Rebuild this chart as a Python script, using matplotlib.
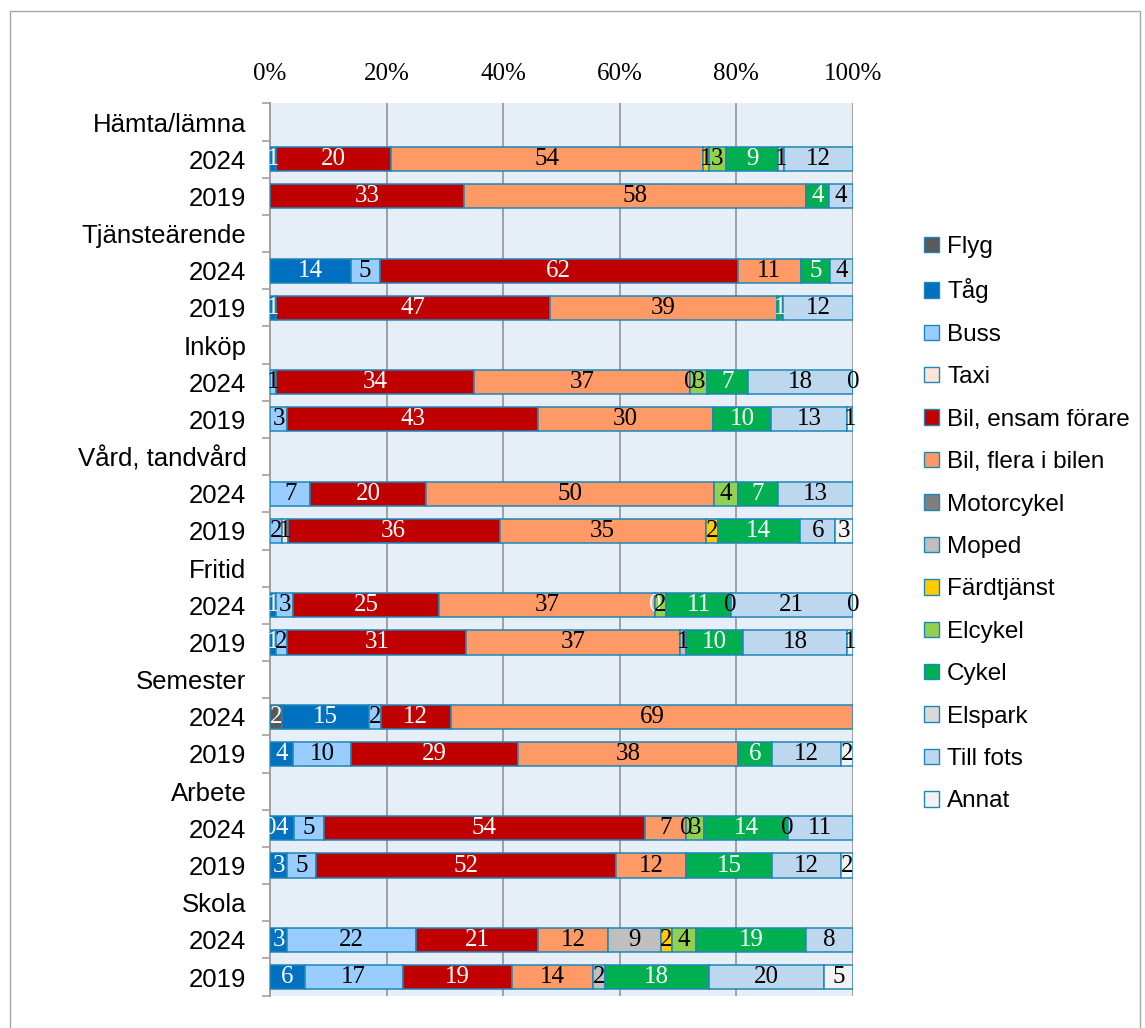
import matplotlib
matplotlib.use("Agg")
import matplotlib.pyplot as plt
from matplotlib.patches import Rectangle, Patch
import numpy as np

# Travel purposes, each with a 2024 and a 2019 row
groups = ["Hämta/lämna", "Tjänsteärende", "Inköp", "Vård, tandvård",
          "Fritid", "Semester", "Arbete", "Skola"]
years = ["2024", "2019"]

# Share per mode (percent), one value per purpose/year row; None = not reported
modes = ["Flyg", "Tåg", "Buss", "Taxi", "Bil, ensam förare", "Bil, flera i bilen",
         "Motorcykel", "Moped", "Färdtjänst", "Elcykel", "Cykel", "Elspark",
         "Till fots", "Annat"]
N = None
flyg       = [N, N, N, N, N, N, N, N, N, N, 2, N, 0, N, N, N]
tag        = [1, N, 14, 1, N, N, N, N, 1, 1, 15, 4, 4, 3, 3, 6]
buss       = [N, N, 5, N, 1, 3, 7, 2, 3, 2, 2, 10, 5, 5, 22, 17]
taxi       = [N, N, N, N, N, N, N, 1, N, N, N, N, N, N, N, N]
bil_ensam  = [20, 33, 62, 47, 34, 43, 20, 36, 25, 31, 12, 29, 54, 52, 21, 19]
bil_flera  = [54, 58, 11, 39, 37, 30, 50, 35, 37, 37, 69, 38, 7, 12, 12, 14]
motorcykel = [N, N, N, N, N, N, N, N, 0, N, N, N, N, N, N, N]
moped      = [N, N, N, N, N, N, N, N, N, 1, N, N, N, N, 9, 2]
fardtjanst = [1, N, N, N, 0, N, N, 2, N, N, N, N, 0, N, 2, N]
elcykel    = [3, N, N, N, 3, N, 4, N, 2, N, N, N, 3, N, 4, N]
cykel      = [9, 4, 5, 1, 7, 10, 7, 14, 11, 10, N, 6, 14, 15, 19, 18]
elspark    = [1, N, N, N, N, N, N, N, 0, N, N, N, 0, N, N, N]
till_fots  = [12, 4, 4, 12, 18, 13, 13, 6, 21, 18, N, 12, 11, 12, 8, 20]
annat      = [N, N, N, N, 0, 1, N, 3, 0, 1, N, 2, N, 2, N, 5]

series = [flyg, tag, buss, taxi, bil_ensam, bil_flera, motorcykel, moped,
          fardtjanst, elcykel, cykel, elspark, till_fots, annat]
colors = ["#595959", "#0070C0", "#99CCFF", "#FBE5D6", "#C00000", "#FF9966",
          "#7F7F7F", "#BFBFBF", "#FFCC00", "#92D050", "#00B050", "#D9D9D9",
          "#BDD7EE", "#F2F2F2"]
text_colors = ["white", "white", "black", "black", "white", "black",
               "white", "black", "black", "black", "white", "black",
               "black", "black"]
edge = "#1F86B8"

SERIF = "Liberation Serif"
SANS = "Liberation Sans"

fig = plt.figure(figsize=(11.45, 10.28), dpi=100)
ax = fig.add_axes([270 / 1145, 0.0315, 583 / 1145, 0.8679])
ax.set_facecolor("#E6EEF8")

# row positions: header, 2024, 2019 for each purpose
ylabels, data_rows = [], []
for g, name in enumerate(groups):
    ylabels += [name] + years
    data_rows += [3 * g + 1, 3 * g + 2]
ypos = np.array(data_rows)
n_rows = len(ylabels)

vals = np.array([[np.nan if v is None else v for v in s] for s in series], dtype=float)
totals = np.nansum(vals, axis=0)
left = np.zeros(vals.shape[1])

for i, name in enumerate(modes):
    raw = vals[i]
    mask = ~np.isnan(raw)
    share = np.where(mask, raw, 0) / totals * 100
    if mask.any():
        bars = ax.barh(ypos[mask], share[mask], left=left[mask], height=0.65,
                       color=colors[i], edgecolor=edge, linewidth=1.1, zorder=3)
        labels = [f"{v:.0f}" for v in raw[mask]]
        ax.bar_label(bars, labels=labels, label_type="center",
                     color=text_colors[i], fontsize=18, family=SERIF, zorder=4)
    left = left + share

ax.set_xlim(0, 100)
ax.set_ylim(n_rows - 0.5, -0.5)
ax.set_xticks(np.arange(0, 101, 20))
ax.set_xticklabels([f"{t}%" for t in range(0, 101, 20)], family=SERIF, fontsize=18)
ax.xaxis.tick_top()
ax.tick_params(axis="x", length=0, pad=13)
ax.grid(axis="x", color="#A0A0A0", linewidth=1.4, zorder=0)

ax.set_yticks(np.arange(n_rows))
ax.set_yticklabels(ylabels, family=SANS, fontsize=18.5)
ax.set_yticks(np.arange(n_rows + 1) - 0.5, minor=True)
ax.tick_params(axis="y", which="major", length=0, pad=17)
ax.tick_params(axis="y", which="minor", length=6, color="#A0A0A0", width=1.2)

for side in ("top", "right", "bottom"):
    ax.spines[side].set_visible(False)
ax.spines["left"].set_color("#A0A0A0")
ax.spines["left"].set_linewidth(1.4)

handles = [Patch(facecolor=c, edgecolor=edge, linewidth=1.0) for c in colors]
fig.legend(handles, modes, loc="center left", bbox_to_anchor=(912 / 1145, 0.490),
           frameon=False, prop={"family": SANS, "size": 17.5},
           handlelength=0.6, handleheight=0.6, handletextpad=0.35,
           labelspacing=0.84, borderpad=0)

fig.add_artist(Rectangle((10 / 1145, -0.01), 1130 / 1145, 0.9993,
                         transform=fig.transFigure, fill=False,
                         edgecolor="#A6A6A6", linewidth=1.0))

fig.savefig("out.png", dpi=100)
